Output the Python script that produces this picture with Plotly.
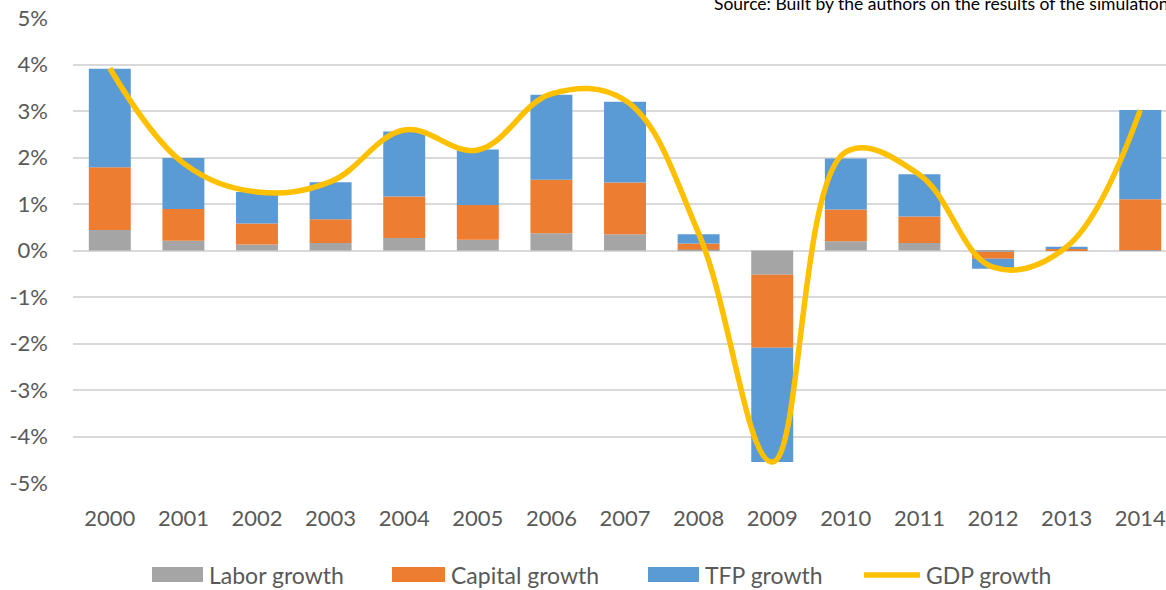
import plotly.graph_objects as go

years = ["2000", "2001", "2002", "2003", "2004", "2005", "2006", "2007",
         "2008", "2009", "2010", "2011", "2012", "2013", "2014"]
labor = [0.44, 0.21, 0.13, 0.16, 0.27, 0.23, 0.37, 0.35, 0.02, -0.52, 0.20, 0.16, -0.03, 0.01, 0.01]
capital = [1.35, 0.68, 0.45, 0.51, 0.89, 0.75, 1.15, 1.11, 0.13, -1.57, 0.68, 0.57, -0.15, 0.02, 1.09]
tfp = [2.12, 1.10, 0.68, 0.80, 1.40, 1.19, 1.83, 1.74, 0.20, -2.46, 1.10, 0.91, -0.21, 0.05, 1.92]
gdp = [3.92, 1.88, 1.26, 1.48, 2.59, 2.16, 3.37, 3.23, 0.37, -4.55, 2.12, 1.63, -0.36, 0.08, 3.02]
series_names = ["Labor growth", "Capital growth", "TFP growth", "GDP growth"]
series_colors = ["#A5A5A5", "#ED7D31", "#5B9BD5", "#FFC000"]
y_ticks = [-5, -4, -3, -2, -1, 0, 1, 2, 3, 4, 5]
y_tick_text = [f"{v}%" for v in y_ticks]

FONT = "Lato, 'Open Sans', sans-serif"
GRAY_TXT = "#595959"

W, H = 1166, 590
ML, MR, MT, MB = 73, 0, 18, 107
PW, PH = W - ML - MR, H - MT - MB


def px_x(x):
    return (x - ML) / PW


def px_y(y):
    return (H - MB - y) / PH


fig = go.Figure()
for vals, name, col in zip([labor, capital, tfp], series_names[:3], series_colors[:3]):
    fig.add_trace(go.Bar(x=years, y=vals, name=name, marker=dict(color=col, line=dict(width=0)),
                         showlegend=False))
fig.add_trace(go.Scatter(x=years, y=gdp, name=series_names[3], mode="lines", showlegend=False,
                         line=dict(color=series_colors[3], width=5.5, shape="spline", smoothing=1.1)))

# custom legend (wide swatches like the original)
legend_swatch_x = [152, 392, 648, 864]
legend_swatch_w = [51, 53, 51, 56]
shapes = []
annotations = []
for i, (name, col) in enumerate(zip(series_names, series_colors)):
    x0 = legend_swatch_x[i]
    x1 = x0 + legend_swatch_w[i]
    if i < 3:
        shapes.append(dict(type="rect", xref="paper", yref="paper",
                           x0=px_x(x0), x1=px_x(x1), y0=px_y(582), y1=px_y(567),
                           fillcolor=col, line=dict(width=0)))
    else:
        shapes.append(dict(type="line", xref="paper", yref="paper",
                           x0=px_x(x0), x1=px_x(x1), y0=px_y(575), y1=px_y(575),
                           line=dict(color=col, width=5.5)))
    annotations.append(dict(text=name, xref="paper", yref="paper", x=px_x(x1 + 4), y=px_y(575),
                            xanchor="left", yanchor="middle", showarrow=False,
                            font=dict(size=23, color=GRAY_TXT, family=FONT)))

annotations.append(dict(text="Source: Built by the authors on the results of the simulation",
                        xref="paper", yref="paper", x=px_x(1170), y=px_y(3), xanchor="right",
                        yanchor="middle", showarrow=False,
                        font=dict(size=17.5, color="#000000", family=FONT)))

fig.update_layout(
    width=W, height=H,
    margin=dict(l=ML, r=MR, t=MT, b=MB),
    barmode="relative", bargap=0.43,
    plot_bgcolor="white", paper_bgcolor="white",
    font=dict(family=FONT, color=GRAY_TXT, size=22),
    showlegend=False,
    xaxis=dict(type="category", range=[-0.5, 14.35], showgrid=False, showline=False,
               ticks="", tickfont=dict(size=22, color=GRAY_TXT), ticklabelstandoff=20),
    yaxis=dict(range=[-5, 5], tickvals=y_ticks, ticktext=y_tick_text, showgrid=True,
               gridcolor="#D9D9D9", gridwidth=2, zeroline=True, zerolinecolor="#D9D9D9",
               zerolinewidth=2, showline=False, ticks="", ticklabelstandoff=24,
               tickfont=dict(size=22, color=GRAY_TXT)),
    shapes=shapes,
    annotations=annotations,
)

fig.write_html("out.html", config={"displayModeBar": False},
               post_script="document.body.style.margin='0';document.body.style.overflow='hidden';")
